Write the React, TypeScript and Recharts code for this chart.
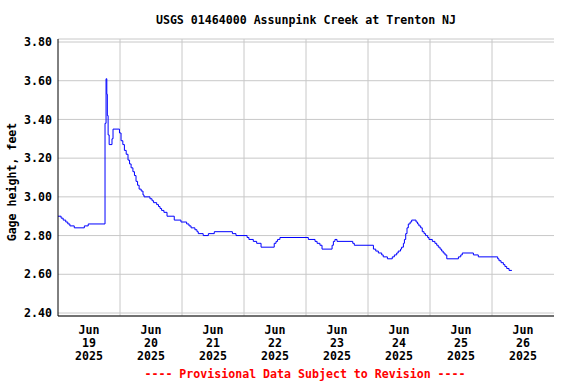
import React from 'react';
import { LineChart, Line, XAxis, YAxis, CartesianGrid, ReferenceLine } from 'recharts';

// hours since Jun 19 2025 00:00, value holds until next reading change
const hours = [
  0, 1.2, 2.0, 3.0, 3.8, 4.6, 6.3, 10.2, 11.7, 18.2, 18.6, 18.9, 19.1, 19.4, 19.8,
  20.9, 21.3, 23.8, 24.4, 25.1, 25.7, 26.4, 27.1, 27.7, 28.3, 29.0, 29.6, 30.2, 30.8,
  31.4, 32.2, 32.9, 33.3, 35.6, 36.4, 37.0, 38.2, 38.9, 39.5, 40.1, 41.0, 42.2, 45.0,
  47.6, 49.8, 50.7, 51.5, 53.0, 53.8, 54.3, 56.2, 58.2, 60.5, 67.5, 68.9, 73.2, 73.9,
  75.6, 76.9, 78.6, 83.7, 84.4, 85.0, 85.9, 96.9, 99.5, 100.3, 101.4, 102.2, 106.1,
  106.6, 107.2, 108.0, 114.1, 114.7, 122.1, 123.0, 124.0, 125.3, 125.9, 127.5, 129.4,
  130.2, 131.1, 131.7, 132.6, 133.0, 133.7, 134.1, 134.6, 135.1, 135.6, 136.3, 136.9,
  138.6, 139.2, 139.7, 140.4, 141.0, 141.7, 142.3, 143.1, 143.6, 144.9, 145.9, 146.6,
  147.2, 147.9, 148.5, 149.1, 149.8, 150.5, 155.0, 155.9, 156.5, 160.8, 162.7, 170.2,
  170.7, 171.5, 172.4, 173.0, 173.7, 174.6, 175.7,
];
const gageFt = [
  2.90, 2.89, 2.88, 2.87, 2.86, 2.85, 2.84, 2.85, 2.86, 3.38, 3.61, 3.53, 3.42, 3.32, 3.27,
  3.30, 3.35, 3.33, 3.29, 3.27, 3.24, 3.22, 3.19, 3.17, 3.15, 3.13, 3.11, 3.08, 3.06,
  3.04, 3.03, 3.01, 3.00, 2.99, 2.98, 2.97, 2.96, 2.95, 2.94, 2.93, 2.92, 2.90, 2.88,
  2.87, 2.86, 2.85, 2.84, 2.83, 2.82, 2.81, 2.80, 2.81, 2.82, 2.81, 2.80, 2.79, 2.78,
  2.77, 2.76, 2.74, 2.76, 2.77, 2.78, 2.79, 2.78, 2.77, 2.76, 2.75, 2.73, 2.75,
  2.77, 2.78, 2.77, 2.76, 2.75, 2.73, 2.72, 2.71, 2.70, 2.69, 2.68, 2.69,
  2.70, 2.71, 2.72, 2.73, 2.74, 2.76, 2.78, 2.81, 2.84, 2.86, 2.87, 2.88,
  2.87, 2.86, 2.85, 2.84, 2.82, 2.81, 2.80, 2.79, 2.78, 2.77, 2.76, 2.75,
  2.74, 2.73, 2.72, 2.71, 2.70, 2.68, 2.69, 2.70, 2.71, 2.70, 2.69, 2.68,
  2.67, 2.66, 2.65, 2.64, 2.63, 2.62, 2.62,
];

// day labels centred at noon, grid at midnight
const labelHours = [12, 36, 60, 84, 108, 132, 156, 180];
const dayLabels = ['19', '20', '21', '22', '23', '24', '25', '26'];
const midnightHours = [24, 48, 72, 96, 120, 144, 168];
const yTicks = [2.4, 2.6, 2.8, 3.0, 3.2, 3.4, 3.6, 3.8];

const data = hours.map((h, i) => ({ h, v: gageFt[i] }));

const FONT = '"DejaVu Sans Mono", monospace';
const GRID = '#c8c8c8';

const DayTick = (props: any) => {
  const { x, y, payload } = props;
  const idx = labelHours.indexOf(payload.value);
  return (
    <g transform={`translate(${x},${y})`}>
      <text textAnchor="middle" fontFamily={FONT} fontWeight="bold" fontSize={11.6} fill="#000">
        <tspan x={0} y={10}>Jun</tspan>
        <tspan x={0} y={23}>{dayLabels[idx]}</tspan>
        <tspan x={0} y={36}>2025</tspan>
      </text>
    </g>
  );
};

const textStyle: React.CSSProperties = {
  position: 'absolute',
  fontFamily: FONT,
  fontWeight: 'bold',
  fontSize: 11.6,
  whiteSpace: 'nowrap',
  lineHeight: '14px',
};

export default function App() {
  return (
    <div style={{ position: 'absolute', left: 0, top: 0, width: 576, height: 384, background: '#fff' }}>
      <div style={{ ...textStyle, left: 0, width: 612, top: 13, textAlign: 'center' }}>
        USGS 01464000 Assunpink Creek at Trenton NJ
      </div>
      <div
        style={{
          ...textStyle,
          left: 12 - 100,
          top: 182 - 7,
          width: 200,
          textAlign: 'center',
          transform: 'rotate(-90deg)',
        }}
      >
        Gage height, feet
      </div>
      <div style={{ ...textStyle, left: 0, width: 610, top: 367, textAlign: 'center', color: '#ff0000' }}>
        ---- Provisional Data Subject to Revision ----
      </div>
      <LineChart
        width={576}
        height={384}
        data={data}
        margin={{ top: 39, right: 22, bottom: 0, left: 8 }}
      >
        <CartesianGrid vertical={false} stroke={GRID} strokeWidth={1} />
        {midnightHours.map((m) => (
          <ReferenceLine key={m} x={m} stroke={GRID} strokeWidth={1} />
        ))}
        <XAxis
          dataKey="h"
          type="number"
          domain={[0, 192]}
          ticks={labelHours}
          interval={0}
          tickLine={false}
          axisLine={{ stroke: '#000' }}
          tick={<DayTick />}
          height={68}
        />
        <XAxis
          xAxisId="top"
          orientation="top"
          type="number"
          domain={[0, 192]}
          tick={false}
          tickLine={false}
          axisLine={{ stroke: '#000' }}
          height={0}
        />
        <YAxis
          type="number"
          domain={[2.4, 3.8]}
          ticks={yTicks}
          interval={0}
          tickFormatter={(v: number) => v.toFixed(2)}
          tickLine={false}
          axisLine={{ stroke: '#000' }}
          padding={{ top: 3, bottom: 3 }}
          width={50}
          tick={{ fontFamily: FONT, fontWeight: 'bold', fontSize: 11.6, fill: '#000' }}
          tickMargin={0}
        />
        <YAxis
          yAxisId="right"
          orientation="right"
          type="number"
          domain={[2.4, 3.8]}
          tick={false}
          tickLine={false}
          axisLine={{ stroke: '#000' }}
          width={0}
        />
        <Line
          type="stepAfter"
          dataKey="v"
          stroke="#0000ff"
          strokeWidth={1}
          dot={false}
          activeDot={false}
          isAnimationActive={false}
        />
      </LineChart>
    </div>
  );
}
